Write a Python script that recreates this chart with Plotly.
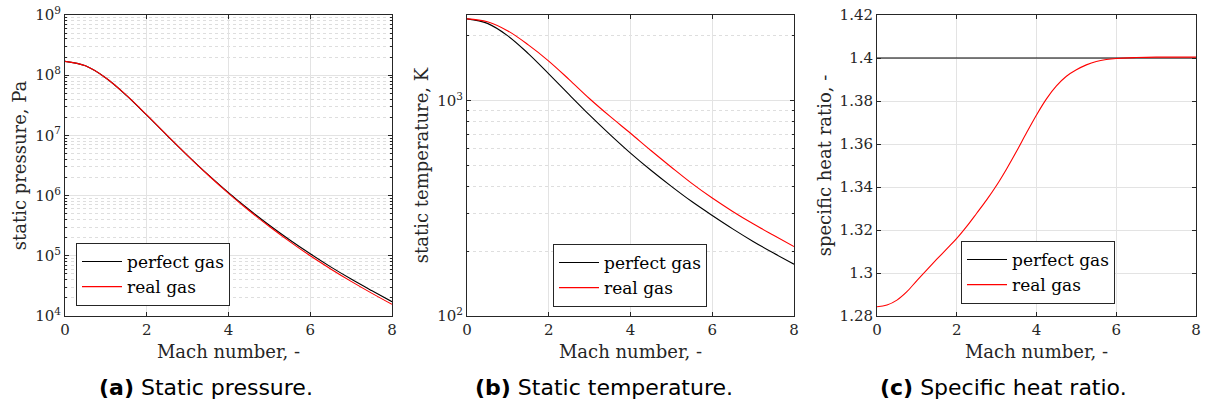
import plotly.graph_objects as go

# ---- data ----
mach = [0, 0.5, 1, 1.5, 2, 2.5, 3, 3.5, 4, 4.5, 5, 5.5, 6, 6.5, 7, 7.5, 8]
mach_fine = [0, 0.25, 0.5, 0.75, 1, 1.25, 1.5, 1.75, 2, 2.25, 2.5, 2.75, 3, 3.25, 3.5,
             3.75, 4, 4.25, 4.5, 4.75, 5, 5.25, 5.5, 5.75, 6, 6.5, 7, 7.5, 8]

p_perfect = [1.70e8, 1.43e8, 8.98e7, 4.63e7, 2.17e7, 9.95e6, 4.63e6, 2.23e6, 1.12e6,
             5.87e5, 3.21e5, 1.83e5, 1.08e5, 6.55e4, 4.11e4, 2.65e4, 1.73e4]
p_real = [1.70e8, 1.43e8, 9.00e7, 4.66e7, 2.19e7, 1.00e7, 4.62e6, 2.20e6, 1.09e6,
          5.65e5, 3.06e5, 1.72e5, 1.00e5, 6.05e4, 3.76e4, 2.40e4, 1.56e4]

t_perfect = [2400, 2286, 2000, 1655, 1333, 1067, 857, 696, 571,
             475, 400, 340, 293, 254, 222, 196, 174]
t_real = [2399, 2328, 2109, 1816, 1528, 1253, 1021, 845, 706,
          587, 491, 413, 353, 306, 268, 237, 210]

g_perfect = [1.4] * len(mach)
g_real = [1.2843, 1.2851, 1.2874, 1.2913, 1.2965, 1.3015, 1.3064, 1.3112, 1.3161,
          1.3217, 1.3278, 1.3340, 1.3408, 1.3484, 1.3566, 1.3652, 1.3735, 1.3810,
          1.3870, 1.3915, 1.3945, 1.3968, 1.3984, 1.3993, 1.3998, 1.4002, 1.4004,
          1.4004, 1.4004]

x_ticks = [0, 2, 4, 6, 8]
p_ticks = [1e4, 1e5, 1e6, 1e7, 1e8, 1e9]
p_ticktext = ["10<sup>4</sup>", "10<sup>5</sup>", "10<sup>6</sup>", "10<sup>7</sup>",
              "10<sup>8</sup>", "10<sup>9</sup>"]
t_ticks = [1e2, 1e3]
t_ticktext = ["10<sup>2</sup>", "10<sup>3</sup>"]
g_ticks = [1.28, 1.30, 1.32, 1.34, 1.36, 1.38, 1.40, 1.42]
g_ticktext = ["1.28", "1.3", "1.32", "1.34", "1.36", "1.38", "1.4", "1.42"]

captions = [("(a)", "Static pressure."), ("(b)", "Static temperature."),
            ("(c)", "Specific heat ratio.")]
y_titles = ["static pressure, Pa", "static temperature, K", "specific heat ratio, -"]
x_title = "Mach number, -"
names = ["perfect gas", "real gas"]

# ---- styling ----
W, H = 1207, 410
AX = "#262626"
GRID = "#e3e3e3"
MINOR_GRID = "#dedede"
SERIF = "DejaVu Serif"

p_minor = [m * 10 ** e for e in range(4, 9) for m in range(2, 10)]
t_minor = [m * 100 for m in range(2, 10)] + [2000]

fig = go.Figure()

panels = [
    dict(x0=65, x1=392, x=(mach, mach), y=(p_perfect, p_real), legend="legend", xa="x", ya="y"),
    dict(x0=467, x1=794, x=(mach, mach), y=(t_perfect, t_real), legend="legend2", xa="x2", ya="y2"),
    dict(x0=877, x1=1196, x=(mach, mach_fine), y=(g_perfect, g_real), legend="legend3", xa="x3", ya="y3"),
]
colors = ["#000000", "#ff0000"]

for pnl in panels:
    for k in range(2):
        fig.add_trace(go.Scatter(
            x=pnl["x"][k], y=pnl["y"][k], mode="lines", name=names[k],
            line=dict(color=colors[k], width=1.1, shape="spline", smoothing=1.0),
            xaxis=pnl["xa"], yaxis=pnl["ya"], legend=pnl["legend"],
            showlegend=True))

top, bottom = 15, 316
ydom = [1 - bottom / H, 1 - top / H]

common_axis = dict(
    showline=True, linecolor=AX, linewidth=1, mirror="ticks",
    ticks="inside", ticklen=4, tickcolor=AX, tickwidth=1,
    showgrid=True, gridcolor=GRID, gridwidth=1, zeroline=False,
    tickfont=dict(family=SERIF, size=15, color=AX),
    automargin=False, ticklabeloverflow="allow",
)

layout = dict(
    width=W, height=H, margin=dict(l=0, r=0, t=0, b=0),
    paper_bgcolor="white", plot_bgcolor="white",
    showlegend=True,
    font=dict(family=SERIF, size=17, color="black"),
)

for i, pnl in enumerate(panels):
    sx = "" if i == 0 else str(i + 1)
    layout["xaxis" + sx] = dict(
        common_axis, domain=[pnl["x0"] / W, pnl["x1"] / W], range=[0, 8],
        tickvals=x_ticks, anchor="y" + sx,
        title=dict(text=x_title, font=dict(family=SERIF, size=18, color=AX), standoff=7),
    )

minor_common = dict(ticks="inside", ticklen=2, tickcolor=AX,
                    showgrid=True, gridcolor=MINOR_GRID, griddash="dot", gridwidth=1)

layout["yaxis"] = dict(
    common_axis, domain=ydom, type="log", range=[4, 9], anchor="x",
    tickvals=p_ticks, ticktext=p_ticktext,
    minor=dict(minor_common, tickvals=p_minor),
    title=dict(text=y_titles[0], font=dict(family=SERIF, size=18, color=AX), standoff=3),
)
layout["yaxis2"] = dict(
    common_axis, domain=ydom, type="log", range=[2, 3.398], anchor="x2",
    tickvals=t_ticks, ticktext=t_ticktext,
    minor=dict(minor_common, tickvals=t_minor),
    title=dict(text=y_titles[1], font=dict(family=SERIF, size=18, color=AX), standoff=3),
)
layout["yaxis3"] = dict(
    common_axis, domain=ydom, range=[1.28, 1.42], anchor="x3",
    tickvals=g_ticks, ticktext=g_ticktext,
    title=dict(text=y_titles[2], font=dict(family=SERIF, size=18, color=AX), standoff=3),
)

legend_pos = [(76, 306), (553, 307), (961, 304)]
for i, (lx, ly) in enumerate(legend_pos):
    key = "legend" if i == 0 else "legend" + str(i + 1)
    layout[key] = dict(
        x=lx / W, y=1 - ly / H, xanchor="left", yanchor="bottom",
        bgcolor="white", bordercolor=AX, borderwidth=1,
        font=dict(family=SERIF, size=17, color="black"),
        itemwidth=40, tracegroupgap=0,
    )

fig.update_layout(**layout)

cap_x = [206, 604, 1003]
for (lab, txt), cx in zip(captions, cap_x):
    fig.add_annotation(
        x=cx / W, y=1 - 387 / H, xref="paper", yref="paper",
        text="<b>" + lab + "</b> " + txt, showarrow=False,
        xanchor="center", yanchor="middle",
        font=dict(family="DejaVu Sans", size=22, color="black"),
    )

fig.write_html(
    "out.html",
    config={"displayModeBar": False},
    post_script="document.body.style.margin='0';document.body.style.padding='0';",
)
